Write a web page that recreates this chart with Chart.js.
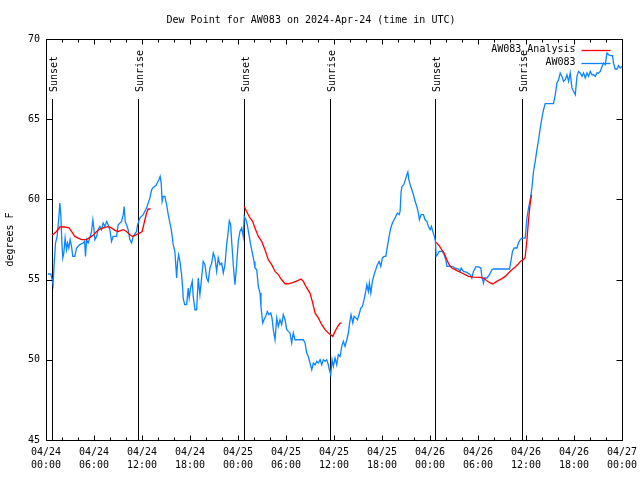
<!DOCTYPE html>
<html>
<head>
<meta charset="utf-8">
<script src="https://cdn.jsdelivr.net/npm/chart.js@4/dist/chart.umd.min.js"></script>
<style>
html,body{margin:0;padding:0;background:#fff;}
#wrap{width:640px;height:480px;position:relative;}
</style>
</head>
<body>
<div id="wrap"><canvas id="c" width="640" height="480"></canvas></div>
<script>
// ---- data (hours since 2024-04-24 00:00 UTC) ----
const chartTitle = 'Dew Point for AW083 on 2024-Apr-24 (time in UTC)';
const yAxisLabel = 'degrees F';
const seriesLabels = ['AW083_Analysis', 'AW083'];
const xTickDates = ['04/24','04/24','04/24','04/24','04/25','04/25','04/25','04/25','04/26','04/26','04/26','04/26','04/27'];
const xTickTimes = ['00:00','06:00','12:00','18:00','00:00','06:00','12:00','18:00','00:00','06:00','12:00','18:00','00:00'];
const sunHours = [0.76, 11.55, 24.78, 35.44, 48.68, 59.49];
const sunLabels = ['Sunset','Sunrise','Sunset','Sunrise','Sunset','Sunrise'];

const obsHours = [0.23,0.60,0.89,1.01,1.19,1.39,1.60,1.73,1.85,1.98,2.10,2.23,2.39,2.56,2.69,2.85,3.02,3.19,3.35,3.60,3.82,4.23,4.64,4.82,4.94,5.07,5.27,5.48,5.69,5.86,5.98,6.11,6.32,6.52,6.73,6.94,7.14,7.36,7.57,7.77,7.98,8.19,8.39,8.82,9.02,9.45,9.65,9.77,9.90,10.07,10.27,10.48,10.70,10.90,11.32,11.45,11.74,12.15,12.57,12.99,13.20,13.40,13.74,13.90,14.11,14.27,14.40,14.52,14.65,14.86,15.08,15.28,15.49,15.70,15.90,16.11,16.33,16.45,16.58,16.74,16.95,17.08,17.15,17.33,17.58,17.78,17.90,18.08,18.28,18.40,18.62,18.83,19.03,19.24,19.45,19.65,19.87,20.08,20.28,20.49,20.71,20.91,21.12,21.33,21.53,21.74,21.96,22.16,22.37,22.58,22.78,22.91,23.08,23.21,23.41,23.62,23.83,24.03,24.25,24.46,24.66,24.78,25.00,25.16,25.37,25.58,25.79,26.00,26.12,26.34,26.54,26.75,26.87,27.09,27.25,27.46,27.66,27.87,28.09,28.25,28.41,28.63,28.84,29.04,29.25,29.46,29.66,29.88,30.09,30.29,30.50,30.71,30.91,31.13,31.75,32.17,32.38,32.59,32.79,33.00,33.22,33.42,33.63,33.84,34.04,34.26,34.47,34.67,34.88,35.09,35.29,35.42,35.59,35.76,35.92,36.13,36.34,36.54,36.76,36.97,37.17,37.38,37.60,37.80,37.92,38.13,38.35,38.51,38.72,38.92,39.13,39.35,39.55,39.76,39.97,40.10,40.30,40.42,40.60,40.80,41.01,41.22,41.42,41.64,41.85,42.05,42.26,42.47,42.68,42.89,43.10,43.30,43.51,43.73,43.93,44.14,44.26,44.39,44.51,44.73,44.93,45.10,45.23,45.35,45.52,45.73,45.93,46.14,46.35,46.55,46.68,46.89,47.18,47.39,47.60,47.80,48.02,48.18,48.35,48.56,48.68,48.77,48.93,49.14,49.56,49.77,49.98,50.11,50.52,50.86,51.14,51.56,51.77,51.90,52.18,52.61,53.02,53.23,53.43,53.73,54.06,54.36,54.48,54.69,54.81,55.11,55.44,55.74,55.94,57.94,58.11,58.31,58.52,58.86,59.06,59.28,59.49,59.90,60.12,60.32,60.53,60.74,60.94,61.15,61.37,61.57,61.78,61.99,62.19,62.40,63.44,63.66,63.87,64.07,64.28,64.49,64.69,64.91,65.12,65.32,65.53,65.74,65.95,66.16,66.37,66.57,66.78,67.00,67.20,67.41,67.62,67.82,68.03,68.25,68.45,68.66,68.87,69.07,69.28,69.50,69.70,69.91,70.12,70.32,70.53,70.82,70.94,71.15,71.37,71.57,71.78,71.99];
const obsValues = [55.35,55.35,54.68,55.93,57.28,57.69,58.84,59.78,59.05,57.38,56.35,56.66,57.59,56.86,57.28,56.97,57.49,57.07,56.45,56.45,56.97,57.18,57.28,57.38,56.45,57.49,57.28,57.59,58.00,58.73,58.22,57.49,57.69,58.11,58.32,58.11,58.53,58.32,58.63,58.42,58.11,57.38,57.69,57.69,58.42,58.63,59.05,59.56,58.63,58.42,58.11,57.49,57.28,57.69,58.00,58.42,58.84,59.05,59.46,60.09,60.60,60.75,60.87,61.02,61.23,61.43,61.02,59.88,60.19,60.19,59.67,59.05,58.53,58.00,57.18,56.76,55.10,56.13,56.55,56.13,55.31,54.48,53.85,53.44,53.44,54.48,53.85,54.48,54.89,53.95,53.12,53.12,55.10,54.06,55.10,56.13,55.93,55.10,54.89,55.72,56.03,56.66,56.35,55.51,56.35,55.93,56.03,55.41,55.93,57.18,58.00,58.67,58.42,57.38,55.93,54.68,55.93,57.38,58.00,58.22,57.69,58.94,58.73,58.42,57.80,57.18,56.66,56.13,55.72,55.62,54.58,54.16,53.33,52.29,52.50,52.71,53.02,52.81,52.92,52.61,51.88,51.25,52.61,52.08,52.50,52.19,52.81,52.50,51.88,51.77,51.67,51.05,51.67,51.25,51.25,51.25,51.05,50.42,50.21,49.80,49.38,49.80,49.69,49.90,49.80,50.01,49.69,50.01,49.90,50.01,49.69,49.38,49.07,50.01,49.59,50.11,49.69,50.32,50.21,50.84,51.15,50.84,51.25,51.67,52.19,52.81,52.29,52.71,52.61,52.50,52.81,53.23,53.33,53.75,54.26,54.68,54.26,54.79,54.16,54.89,55.31,55.62,55.93,56.13,55.82,56.35,56.45,56.45,57.07,57.69,58.22,58.53,58.73,58.94,59.15,59.05,59.25,60.50,60.81,60.92,61.23,61.54,61.71,61.23,60.92,60.60,60.29,59.88,59.56,59.15,58.73,59.05,59.05,58.73,58.63,58.32,58.11,58.32,58.00,57.69,57.38,56.45,56.55,56.76,56.76,56.55,56.24,55.82,55.82,55.79,55.72,55.66,55.51,55.72,55.51,55.45,55.31,55.10,55.51,55.79,55.79,55.72,55.20,54.79,55.10,55.10,55.31,55.62,55.66,55.66,56.13,56.76,56.97,56.97,57.28,57.49,57.59,57.59,58.84,59.46,59.98,60.71,61.75,62.37,63.10,63.72,64.45,65.07,65.59,65.97,65.97,66.53,67.26,67.46,67.88,67.67,67.36,67.46,67.77,67.36,67.88,66.95,66.73,66.53,67.67,67.98,67.88,67.67,67.88,67.57,67.88,67.67,67.98,67.77,67.77,67.67,67.88,67.88,67.98,68.29,68.50,68.40,69.13,69.02,68.96,68.96,68.50,68.13,68.13,68.34,68.19,68.29];

const anaHours = [0.76,1.31,1.73,2.35,2.89,3.19,3.60,4.02,4.44,5.07,5.48,5.89,6.32,6.73,7.36,7.77,8.19,8.61,9.02,9.65,10.07,10.48,10.82,11.32,11.74,12.02,12.27,12.57,12.77,13.07,
  18.0,
  24.78,25.08,25.50,25.83,26.12,26.54,26.96,27.37,27.79,28.21,28.63,29.04,29.46,29.88,30.29,30.91,31.54,31.88,32.17,32.59,33.00,33.34,33.63,34.04,34.47,34.88,35.29,35.59,35.84,36.13,36.47,36.76,36.97,
  42.0,
  48.77,49.14,49.48,49.77,50.11,50.39,50.73,51.14,51.56,51.98,52.39,52.81,53.43,54.27,54.69,55.11,55.52,55.86,56.15,56.56,56.99,57.40,57.82,58.24,58.65,59.06,59.40,59.69,59.90,60.12,60.32,60.53,60.70];
const anaValues = [57.76,58.00,58.28,58.28,58.22,58.00,57.69,57.59,57.49,57.49,57.63,57.76,58.00,58.15,58.25,58.30,58.22,58.07,58.00,58.11,58.00,57.80,57.69,57.80,57.91,58.00,58.53,59.15,59.40,59.40,
  null,
  59.56,59.25,58.84,58.63,58.22,57.69,57.38,56.86,56.24,55.93,55.51,55.31,54.99,54.74,54.74,54.83,54.95,55.04,54.89,54.48,54.16,53.54,52.92,52.61,52.19,51.88,51.67,51.56,51.46,51.77,52.08,52.29,52.29,
  null,
  57.32,57.11,56.86,56.66,56.24,55.93,55.72,55.62,55.51,55.41,55.31,55.20,55.16,55.14,55.10,54.93,54.79,54.73,54.83,54.95,55.06,55.20,55.41,55.62,55.79,55.99,56.18,56.24,56.41,57.49,58.73,59.78,60.30];

const FONT = 'DejaVu Sans Mono';
const toPts = (hs, vs) => hs.map((h, i) => ({x: h, y: vs[i]}));

// custom drawing: sunrise/sunset lines, frame with inward ticks, gnuplot-style key
const decor = {
  id: 'decor',
  beforeDatasetsDraw(chart) {
    const {ctx, chartArea} = chart;
    const xs = chart.scales.x;
    ctx.save();
    ctx.strokeStyle = '#000';
    ctx.lineWidth = 1;
    ctx.fillStyle = '#000';
    ctx.font = '10px "' + FONT + '"';
    sunHours.forEach((h, i) => {
      const px = Math.round(xs.getPixelForValue(h)) + 0.5;
      ctx.beginPath();
      ctx.moveTo(px, chartArea.top + 60);
      ctx.lineTo(px, chartArea.bottom);
      ctx.stroke();
      ctx.save();
      ctx.translate(px + 4.5, chartArea.top + 53);
      ctx.rotate(-Math.PI / 2);
      ctx.textAlign = 'left';
      ctx.textBaseline = 'alphabetic';
      ctx.fillText(sunLabels[i], 0, 0);
      ctx.restore();
    });
    ctx.restore();
  },
  afterDraw(chart) {
    const {ctx, chartArea} = chart;
    const xs = chart.scales.x, ys = chart.scales.y;
    const L = Math.round(chartArea.left) + 0.5, R = Math.round(chartArea.right) + 0.5;
    const T = Math.round(chartArea.top) + 0.5, B = Math.round(chartArea.bottom) + 0.5;
    ctx.save();
    ctx.strokeStyle = '#000';
    ctx.lineWidth = 1;
    ctx.beginPath();
    ctx.rect(L, T, R - L, B - T);
    xs.ticks.forEach(t => {
      const px = Math.round(xs.getPixelForValue(t.value)) + 0.5;
      const len = (t.value % 6 === 0) ? 5 : 3;
      ctx.moveTo(px, B); ctx.lineTo(px, B - len);
      ctx.moveTo(px, T); ctx.lineTo(px, T + len);
    });
    ys.ticks.forEach(t => {
      const py = Math.round(ys.getPixelForValue(t.value)) + 0.5;
      ctx.moveTo(L, py); ctx.lineTo(L + 6, py);
      ctx.moveTo(R, py); ctx.lineTo(R - 6, py);
    });
    ctx.stroke();
    // key
    ctx.font = '10px "' + FONT + '"';
    ctx.textAlign = 'right';
    ctx.textBaseline = 'middle';
    chart.data.datasets.forEach((ds, i) => {
      const y = T + 10 + i * 13;
      ctx.fillStyle = '#000';
      ctx.fillText(ds.label, R - 47, y);
      ctx.strokeStyle = ds.borderColor;
      ctx.lineWidth = 1.3;
      ctx.beginPath();
      ctx.moveTo(R - 41, Math.round(y) + 0.5);
      ctx.lineTo(R - 12, Math.round(y) + 0.5);
      ctx.stroke();
    });
    ctx.restore();
  }
};

new Chart(document.getElementById('c'), {
  type: 'line',
  data: {
    datasets: [
      {label: seriesLabels[0], data: toPts(anaHours, anaValues), borderColor: '#ff0000', borderWidth: 1.3, pointRadius: 0, spanGaps: false, tension: 0, fill: false},
      {label: seriesLabels[1], data: toPts(obsHours, obsValues), borderColor: '#0a84ff', borderWidth: 1.3, pointRadius: 0, tension: 0, fill: false}
    ]
  },
  options: {
    responsive: false,
    animation: false,
    events: [],
    layout: {padding: {left: 0, right: 18, top: 0, bottom: 0}},
    plugins: {
      legend: {display: false},
      tooltip: {enabled: false},
      title: {display: true, text: chartTitle, color: '#000', font: {family: FONT, size: 10, weight: 'normal', lineHeight: 1.2}, padding: {top: 14, bottom: 13}}
    },
    scales: {
      x: {
        type: 'linear', min: 0, max: 72,
        grid: {display: false, drawTicks: false},
        border: {display: false},
        ticks: {
          stepSize: 2, autoSkip: false, maxRotation: 0, minRotation: 0, padding: 6, color: '#000',
          font: {family: FONT, size: 10, lineHeight: 1.3},
          callback: (v) => (v % 6 === 0) ? [xTickDates[v / 6], xTickTimes[v / 6]] : ''
        },
        afterFit: (s) => { s.height = 40; s.paddingLeft = 0; s.paddingRight = 0; }
      },
      y: {
        min: 45, max: 70,
        grid: {display: false, drawTicks: false},
        border: {display: false},
        ticks: {stepSize: 5, padding: 6, color: '#000', font: {family: FONT, size: 10}},
        title: {display: true, text: yAxisLabel, color: '#000', font: {family: FONT, size: 10}, padding: {top: 4, bottom: 0}},
        afterFit: (s) => { s.width = 46; s.paddingTop = 0; s.paddingBottom = 0; }
      }
    }
  },
  plugins: [decor]
});
</script>
</body>
</html>
